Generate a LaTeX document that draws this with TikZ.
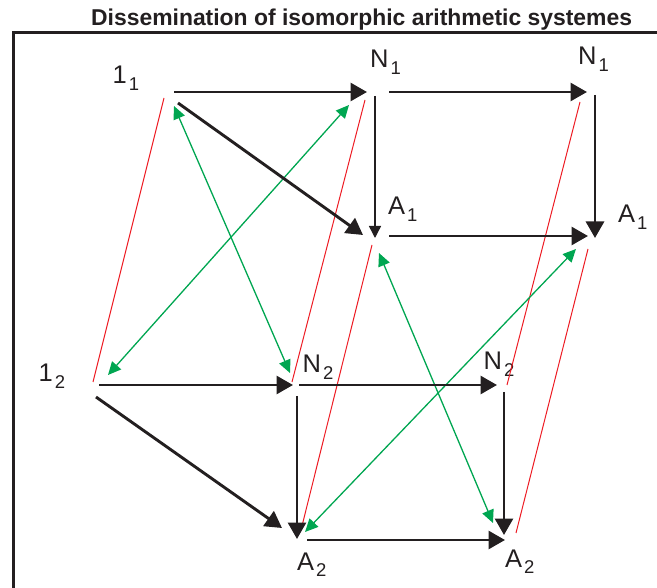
\documentclass[tikz,border=0pt]{standalone}
\usepackage{fontspec}
\setmainfont{Liberation Sans}
\usetikzlibrary{arrows.meta}
\definecolor{ink}{HTML}{231F20}
\definecolor{rd}{HTML}{ED1C24}
\definecolor{gn}{HTML}{00A651}
\newcommand{\lbl}[2]{\fontsize{25.5pt}{25.5pt}\selectfont #1\kern2pt\raisebox{-6.5pt}{\fontsize{18.5pt}{18.5pt}\selectfont #2}}
\begin{document}
\begin{tikzpicture}[x=1pt,y=-1pt,
  blk/.style={draw=ink, line width=2.9pt, -{Triangle[length=16.5pt,width=18pt]}},
  thn/.style={draw=ink, line width=1.4pt, -{Triangle[length=12pt,width=12pt]}},
  rline/.style={draw=rd, line width=1pt},
  gline/.style={draw=gn, line width=1.3pt, {Triangle[length=13pt,width=12pt]}-{Triangle[length=13pt,width=12pt]}},
  lab/.style={anchor=base west, inner sep=0pt, text=ink},
  frame/.style={draw=ink, line width=3pt}]
\useasboundingbox (0,0) rectangle (657,588);
% points
\coordinate (O1) at (170,92);
\coordinate (N1) at (375,92);
\coordinate (M1) at (595,92);
\coordinate (A1) at (375,237);
\coordinate (B1) at (595,237);
\coordinate (O2) at (95,385);
\coordinate (N2) at (297,385);
\coordinate (M2) at (505,385);
\coordinate (A2) at (297,540);
\coordinate (B2) at (506,540);
% frame
\coordinate (FTR) at (657,33);
\coordinate (FTL) at (13,33);
\coordinate (FBL) at (13,588);
\draw[frame] (FTR) -- (FTL) -- (FBL);
% title
\node[lab, font=\bfseries\fontsize{22.9pt}{23pt}\selectfont] (title) at (91,26) {Dissemination of isomorphic arithmetic systemes};
% labels
\node[lab] (l11) at (112.5,84) {\lbl{1}{1}};
\node[lab] (lN1) at (370,68) {\lbl{N}{1}};
\node[lab] (lM1) at (578,65) {\lbl{N}{1}};
\node[lab] (lA1) at (388,215) {\lbl{A}{1}};
\node[lab] (lB1) at (618,223) {\lbl{A}{1}};
\node[lab] (l12) at (38.5,382) {\lbl{1}{2}};
\node[lab] (lN2) at (302.5,373) {\lbl{N}{2}};
\node[lab] (lM2) at (483.5,370) {\lbl{N}{2}};
\node[lab] (lA2) at (297,570) {\lbl{A}{2}};
\node[lab] (lB2) at (505,567) {\lbl{A}{2}};
% red lines
\draw[rline] ([shift={(-6,6)}]O1) -- ([shift={(-2,-3)}]O2);
\draw[rline] ([shift={(-10,8)}]N1) -- ([shift={(-5,-3)}]N2);
\draw[rline] ([shift={(-3,8)}]A1) -- ([shift={(4,-10)}]A2);
\draw[rline] ([shift={(-15,10)}]M1) -- ([shift={(2,0)}]M2);
\draw[rline] ([shift={(-7,12)}]B1) -- ([shift={(10,-7)}]B2);
% green lines
\draw[gline] ([shift={(4,14)}]O1) -- ([shift={(-7,-12)}]N2);
\draw[gline] ([shift={(-26,13)}]N1) -- ([shift={(13,-10)}]O2);
\draw[gline] ([shift={(4,16)}]A1) -- ([shift={(-13,-17)}]B2);
\draw[gline] ([shift={(-19,12)}]B1) -- ([shift={(8,-8)}]A2);
% black arrows
\draw[blk] ([shift={(4,0)}]O1) -- ([shift={(-8,0)}]N1);
\draw[blk] ([shift={(14,0)}]N1) -- ([shift={(-8,0)}]M1);
\draw[blk] ([shift={(8,11)}]O1) -- ([shift={(-12,-2)}]A1);
\draw[blk] ([shift={(14,-1)}]A1) -- ([shift={(-7,-1)}]B1);
\draw[blk] ([shift={(0,3)}]M1) -- ([shift={(0,1)}]B1);
\draw[thn] ([shift={(0,4)}]N1) -- ([shift={(0,1)}]A1);
\draw[blk] ([shift={(4,0)}]O2) -- ([shift={(-4,0)}]N2);
\draw[blk] ([shift={(2,0)}]N2) -- ([shift={(-8,0)}]M2);
\draw[blk] ([shift={(1,12)}]O2) -- ([shift={(-15,-12)}]A2);
\draw[blk] ([shift={(0,11)}]N2) -- ([shift={(0,-1)}]A2);
\draw[blk] ([shift={(-1,7)}]M2) -- ([shift={(-2,-5)}]B2);
\draw[blk] ([shift={(10,0)}]A2) -- ([shift={(-1,0)}]B2);
\end{tikzpicture}
\end{document}
